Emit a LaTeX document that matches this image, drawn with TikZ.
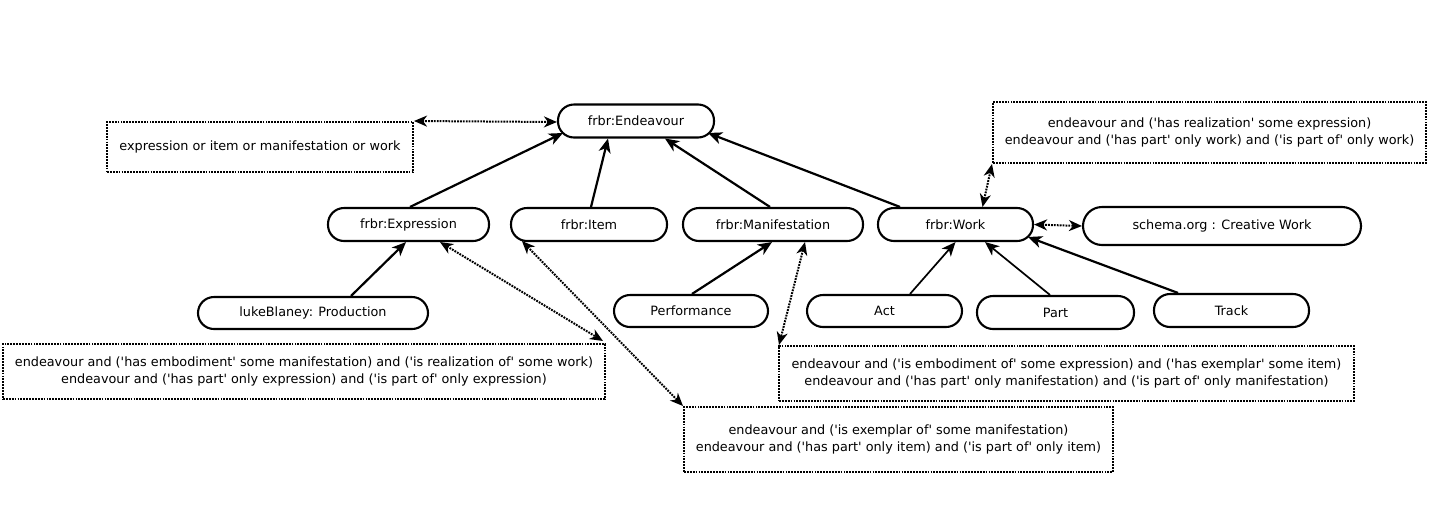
\documentclass[tikz,border=0pt]{standalone}
\usepackage{fontspec}
\newfontfamily\dv{DejaVu Sans}
\usetikzlibrary{arrows.meta,calc}
\begin{document}
\begin{tikzpicture}[x=1pt,y=-1pt,
  cls/.style={draw, line width=2.1pt, rounded corners=16pt, minimum height=33pt, inner sep=0pt, font=\dv\fontsize{12.8}{15}\selectfont},
  note/.style={draw, line width=2pt, dash pattern=on 1.8pt off 1.1pt, align=center, inner sep=0pt, font=\dv\fontsize{12.8}{17.5}\selectfont},
  isa/.style={line width=2.2pt, -{Stealth[length=14pt,width=12pt,inset=4pt]}},
  isathin/.style={isa, line width=1.7pt},
  rel/.style={line width=2pt, dash pattern=on 1.8pt off 1.1pt, {Stealth[length=13pt,width=11pt,inset=4pt]}-{Stealth[length=13pt,width=11pt,inset=4pt]}}
]
\useasboundingbox (0,0) rectangle (1447,504);

% classes
\node[cls, minimum width=156pt] (endv) at (636,121) {frbr:Endeavour};
\node[cls, minimum width=161pt] (expr) at (408.5,224.5) {frbr:Expression};
\node[cls, minimum width=156pt] (item) at (589,224.5) {frbr:Item};
\node[cls, minimum width=180pt] (manif) at (773,224.5) {frbr:Manifestation};
\node[cls, minimum width=155pt] (work) at (955.5,224.5) {frbr:Work};
\node[cls, minimum width=278pt, minimum height=38pt, rounded corners=19pt] (schema) at (1222,226) {schema.org : Creative Work};
\node[cls, minimum width=230pt, minimum height=32pt] (prod) at (313,313) {lukeBlaney: Production};
\node[cls, minimum width=154pt, minimum height=32pt] (perf) at (691,311) {Performance};
\node[cls, minimum width=155pt, minimum height=32pt] (act) at (884.5,311) {Act};
\node[cls, minimum width=157pt] (part) at (1055.5,312.5) {Part};
\node[cls, minimum width=155pt] (track) at (1231.5,310.5) {Track};

% notes
\node[note, minimum width=306pt, minimum height=50pt] (n1) at (260,147) {expression or item or manifestation or work};
\node[note, minimum width=433pt, minimum height=61pt] (nwork) at (1209.5,132.5) {endeavour and ('has realization' some expression)\\endeavour and ('has part' only work) and ('is part of' only work)};
\node[note, minimum width=602pt, minimum height=55pt] (nexpr) at (304,371.5) {endeavour and ('has embodiment' some manifestation) and ('is realization of' some work)\\endeavour and ('has part' only expression) and ('is part of' only expression)};
\node[note, minimum width=575pt, minimum height=55pt] (nmanif) at (1066.5,373.5) {endeavour and ('is embodiment of' some expression) and ('has exemplar' some item)\\endeavour and ('has part' only manifestation) and ('is part of' only manifestation)};
\node[note, minimum width=429pt, minimum height=65pt] (nitem) at (898.5,439.5) {endeavour and ('is exemplar of' some manifestation)\\endeavour and ('has part' only item) and ('is part of' only item)};

% subclass arrows
\draw[isa] ($(expr.north)+(1.5,0)$) -- ($(endv)+(-73,12)$);
\draw[isa] ($(item.north)+(2,0)$) -- ($(endv.south)+(-28,0)$);
\draw[isa] ($(manif.north)+(-3,0)$) -- ($(endv.south)+(29,0)$);
\draw[isa] ($(work.north)+(-55.5,0)$) -- ($(endv)+(72,12)$);
\draw[isa] ($(prod.north)+(38,0)$) -- ($(expr.south)+(-2.5,0)$);
\draw[isa] ($(perf.north)+(1,0)$) -- ($(manif.south)+(-1,0)$);
\draw[isathin] ($(act.north)+(25.5,0)$) -- (work.south);
\draw[isathin] ($(part.north)+(-5.5,0)$) -- ($(work.south)+(29.5,0)$);
\draw[isa] ($(track.north)+(-53.5,0)$) -- ($(work)+(72.5,12.5)$);

% dotted relations
\draw[rel] (n1.north east) -- ($(endv.west)+(0,1)$);
\draw[rel] ($(work.north)+(27,0)$) -- (nwork.south west);
\draw[rel] (work.east) -- (schema.west);
\draw[rel] ($(expr.south)+(31.5,0)$) -- ($(nexpr.north east)+(-3,-2)$);
\draw[rel] ($(item.south west)+(12,-1)$) -- (nitem.north west);
\draw[rel] ($(manif.south)+(32,0)$) -- ($(nmanif.north west)+(1,0)$);
\end{tikzpicture}
\end{document}
